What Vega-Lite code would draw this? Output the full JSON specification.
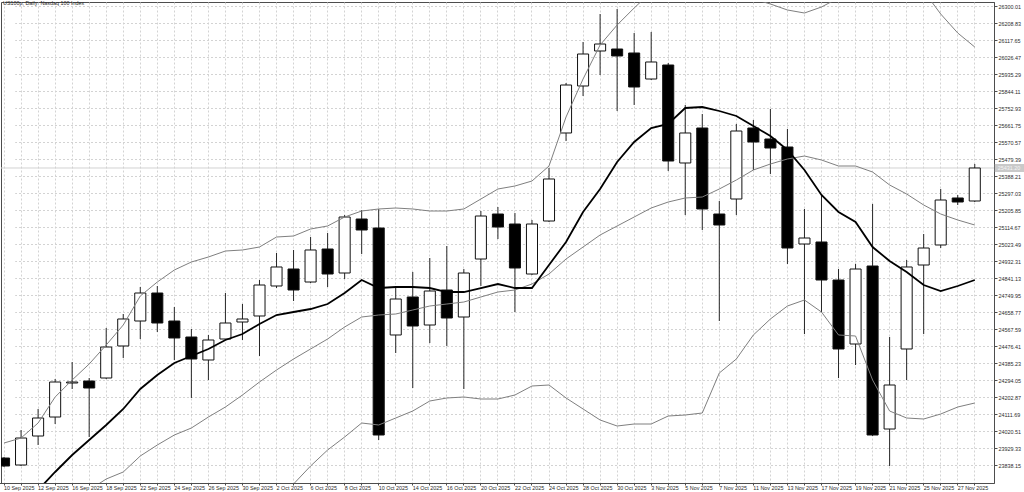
{
  "$schema": "https://vega.github.io/schema/vega-lite/v6.json",
  "width": 993,
  "height": 481,
  "padding": 0,
  "background": "white",
  "title": {
    "text": "US100p, Daily:  Nasdaq 100 Index",
    "anchor": "start",
    "frame": "group",
    "orient": "top",
    "offset": 0,
    "baseline": "top",
    "dx": 2,
    "dy": 4,
    "font": "Liberation Sans",
    "fontSize": 5.4,
    "fontWeight": "normal",
    "color": "#2b2b2b"
  },
  "datasets": {
    "bars": [
      {"d": "10 Sep 2025", "o": 23875.7, "h": 23881.1, "l": 23827.5, "c": 23832.8, "ma": 23532.5, "up": 23956.2, "mid": 23489.6, "lo": 23022.9},
      {"d": "11 Sep 2025", "o": 23838.2, "h": 24025.9, "l": 23832.8, "c": 23983.0, "ma": 23612.9, "up": 23983.0, "mid": 23521.8, "lo": 23060.5},
      {"d": "12 Sep 2025", "o": 23993.7, "h": 24138.6, "l": 23945.5, "c": 24090.3, "ma": 23704.1, "up": 24063.5, "mid": 23559.3, "lo": 23055.1},
      {"d": "15 Sep 2025", "o": 24095.6, "h": 24299.5, "l": 24058.1, "c": 24283.4, "ma": 23800.7, "up": 24202.9, "mid": 23602.2, "lo": 23001.5},
      {"d": "16 Sep 2025", "o": 24278.0, "h": 24390.6, "l": 24245.8, "c": 24283.4, "ma": 23891.8, "up": 24294.1, "mid": 23650.5, "lo": 23006.9},
      {"d": "17 Sep 2025", "o": 24288.7, "h": 24304.8, "l": 23988.4, "c": 24251.2, "ma": 23972.3, "up": 24379.9, "mid": 23704.1, "lo": 23028.3},
      {"d": "18 Sep 2025", "o": 24304.8, "h": 24573.0, "l": 24299.5, "c": 24471.1, "ma": 24052.7, "up": 24481.8, "mid": 23763.1, "lo": 23044.4},
      {"d": "19 Sep 2025", "o": 24476.5, "h": 24648.1, "l": 24412.1, "c": 24621.3, "ma": 24138.6, "up": 24589.1, "mid": 23800.7, "lo": 23012.2},
      {"d": "22 Sep 2025", "o": 24610.5, "h": 24792.9, "l": 24514.0, "c": 24760.7, "ma": 24245.8, "up": 24744.6, "mid": 23886.5, "lo": 23028.3},
      {"d": "23 Sep 2025", "o": 24760.7, "h": 24798.3, "l": 24551.5, "c": 24599.8, "ma": 24320.9, "up": 24819.7, "mid": 23945.5, "lo": 23071.2},
      {"d": "24 Sep 2025", "o": 24610.5, "h": 24685.6, "l": 24401.4, "c": 24519.4, "ma": 24385.3, "up": 24884.1, "mid": 23999.1, "lo": 23114.1},
      {"d": "25 Sep 2025", "o": 24524.7, "h": 24567.6, "l": 24197.6, "c": 24406.7, "ma": 24422.8, "up": 24927.0, "mid": 24036.6, "lo": 23146.3},
      {"d": "26 Sep 2025", "o": 24401.4, "h": 24535.5, "l": 24294.1, "c": 24508.6, "ma": 24460.4, "up": 24953.8, "mid": 24095.6, "lo": 23237.5},
      {"d": "29 Sep 2025", "o": 24514.0, "h": 24760.7, "l": 24508.6, "c": 24599.8, "ma": 24508.6, "up": 24986.0, "mid": 24149.3, "lo": 23312.6},
      {"d": "30 Sep 2025", "o": 24605.2, "h": 24701.7, "l": 24508.6, "c": 24621.3, "ma": 24540.8, "up": 24991.4, "mid": 24213.6, "lo": 23435.9},
      {"d": "1 Oct 2025", "o": 24637.4, "h": 24830.4, "l": 24422.8, "c": 24803.6, "ma": 24594.5, "up": 25007.4, "mid": 24283.4, "lo": 23559.3},
      {"d": "2 Oct 2025", "o": 24798.3, "h": 24975.3, "l": 24787.5, "c": 24900.2, "ma": 24642.7, "up": 25061.1, "mid": 24347.7, "lo": 23639.7},
      {"d": "3 Oct 2025", "o": 24889.4, "h": 24991.4, "l": 24717.8, "c": 24776.8, "ma": 24658.8, "up": 25066.4, "mid": 24406.7, "lo": 23736.3},
      {"d": "6 Oct 2025", "o": 24819.7, "h": 25061.1, "l": 24814.4, "c": 24991.4, "ma": 24674.9, "up": 25104.0, "mid": 24460.4, "lo": 23832.8},
      {"d": "7 Oct 2025", "o": 24996.7, "h": 25082.5, "l": 24792.9, "c": 24862.6, "ma": 24701.7, "up": 25120.1, "mid": 24514.0, "lo": 23918.7},
      {"d": "8 Oct 2025", "o": 24868.0, "h": 25179.1, "l": 24835.8, "c": 25168.3, "ma": 24760.7, "up": 25168.3, "mid": 24578.4, "lo": 23988.4},
      {"d": "9 Oct 2025", "o": 25157.6, "h": 25205.9, "l": 24969.9, "c": 25098.6, "ma": 24830.4, "up": 25200.5, "mid": 24632.0, "lo": 24063.5},
      {"d": "10 Oct 2025", "o": 25109.3, "h": 25211.3, "l": 23972.3, "c": 23999.1, "ma": 24787.5, "up": 25211.3, "mid": 24642.7, "lo": 24052.7},
      {"d": "13 Oct 2025", "o": 24535.5, "h": 24792.9, "l": 24438.9, "c": 24728.5, "ma": 24792.9, "up": 25216.6, "mid": 24648.1, "lo": 24090.3},
      {"d": "14 Oct 2025", "o": 24739.3, "h": 24873.4, "l": 24251.2, "c": 24583.7, "ma": 24792.9, "up": 25211.3, "mid": 24669.5, "lo": 24127.8},
      {"d": "15 Oct 2025", "o": 24589.1, "h": 24948.4, "l": 24492.5, "c": 24771.4, "ma": 24787.5, "up": 25200.5, "mid": 24691.0, "lo": 24181.5},
      {"d": "16 Oct 2025", "o": 24776.8, "h": 25012.8, "l": 24476.5, "c": 24626.6, "ma": 24766.1, "up": 25200.5, "mid": 24701.7, "lo": 24197.6},
      {"d": "17 Oct 2025", "o": 24632.0, "h": 24889.4, "l": 24245.8, "c": 24868.0, "ma": 24766.1, "up": 25211.3, "mid": 24712.4, "lo": 24202.9},
      {"d": "20 Oct 2025", "o": 24943.1, "h": 25200.5, "l": 24798.3, "c": 25173.7, "ma": 24787.5, "up": 25264.9, "mid": 24739.3, "lo": 24192.2},
      {"d": "21 Oct 2025", "o": 25184.4, "h": 25222.0, "l": 25050.3, "c": 25114.7, "ma": 24809.0, "up": 25318.5, "mid": 24766.1, "lo": 24192.2},
      {"d": "22 Oct 2025", "o": 25130.8, "h": 25189.8, "l": 24658.8, "c": 24894.8, "ma": 24787.5, "up": 25334.6, "mid": 24776.8, "lo": 24213.6},
      {"d": "23 Oct 2025", "o": 24862.6, "h": 25152.3, "l": 24857.3, "c": 25130.8, "ma": 24787.5, "up": 25361.4, "mid": 24809.0, "lo": 24261.9},
      {"d": "24 Oct 2025", "o": 25146.9, "h": 25431.2, "l": 25141.5, "c": 25372.2, "ma": 24910.9, "up": 25441.9, "mid": 24862.6, "lo": 24267.3},
      {"d": "27 Oct 2025", "o": 25618.9, "h": 25887.1, "l": 25576.0, "c": 25876.3, "ma": 25034.3, "up": 25704.7, "mid": 24943.1, "lo": 24197.6},
      {"d": "28 Oct 2025", "o": 25871.0, "h": 26107.0, "l": 25817.3, "c": 26042.6, "ma": 25195.2, "up": 25908.5, "mid": 25007.4, "lo": 24138.6},
      {"d": "29 Oct 2025", "o": 26058.7, "h": 26257.1, "l": 25930.0, "c": 26096.2, "ma": 25318.5, "up": 26090.9, "mid": 25071.8, "lo": 24079.6},
      {"d": "30 Oct 2025", "o": 26069.4, "h": 26284.0, "l": 25736.9, "c": 26031.9, "ma": 25463.3, "up": 26198.1, "mid": 25120.1, "lo": 24047.4},
      {"d": "31 Oct 2025", "o": 26048.0, "h": 26155.2, "l": 25769.1, "c": 25865.6, "ma": 25570.6, "up": 26289.3, "mid": 25168.3, "lo": 24058.1},
      {"d": "3 Nov 2025", "o": 25908.5, "h": 26160.6, "l": 25903.1, "c": 25999.7, "ma": 25645.7, "up": 26375.1, "mid": 25216.6, "lo": 24058.1},
      {"d": "4 Nov 2025", "o": 25983.6, "h": 25994.3, "l": 25415.1, "c": 25468.7, "ma": 25667.2, "up": 26396.6, "mid": 25248.8, "lo": 24101.0},
      {"d": "5 Nov 2025", "o": 25458.0, "h": 25769.1, "l": 25179.1, "c": 25618.9, "ma": 25753.0, "up": 26434.1, "mid": 25270.3, "lo": 24106.4},
      {"d": "6 Nov 2025", "o": 25645.7, "h": 25720.8, "l": 25098.6, "c": 25211.3, "ma": 25758.3, "up": 26434.1, "mid": 25275.6, "lo": 24117.1},
      {"d": "7 Nov 2025", "o": 25184.4, "h": 25254.2, "l": 24610.5, "c": 25125.4, "ma": 25736.9, "up": 26364.4, "mid": 25318.5, "lo": 24331.6},
      {"d": "10 Nov 2025", "o": 25264.9, "h": 25667.2, "l": 25179.1, "c": 25629.6, "ma": 25710.1, "up": 26353.7, "mid": 25366.8, "lo": 24406.7},
      {"d": "11 Nov 2025", "o": 25645.7, "h": 25688.6, "l": 25420.4, "c": 25570.6, "ma": 25656.4, "up": 26337.6, "mid": 25420.4, "lo": 24535.5},
      {"d": "12 Nov 2025", "o": 25586.7, "h": 25747.6, "l": 25399.0, "c": 25538.4, "ma": 25602.8, "up": 26310.8, "mid": 25452.6, "lo": 24621.3},
      {"d": "13 Nov 2025", "o": 25543.8, "h": 25640.3, "l": 24916.3, "c": 25002.1, "ma": 25527.7, "up": 26278.6, "mid": 25479.4, "lo": 24691.0},
      {"d": "14 Nov 2025", "o": 25023.5, "h": 25211.3, "l": 24540.8, "c": 25055.7, "ma": 25420.4, "up": 26262.5, "mid": 25495.5, "lo": 24723.2},
      {"d": "17 Nov 2025", "o": 25034.3, "h": 25286.3, "l": 24658.8, "c": 24830.4, "ma": 25286.3, "up": 26294.7, "mid": 25474.1, "lo": 24658.8},
      {"d": "18 Nov 2025", "o": 24830.4, "h": 24889.4, "l": 24304.8, "c": 24460.4, "ma": 25195.2, "up": 26342.9, "mid": 25441.9, "lo": 24535.5},
      {"d": "19 Nov 2025", "o": 24487.2, "h": 24916.3, "l": 24374.5, "c": 24889.4, "ma": 25141.5, "up": 26353.7, "mid": 25441.9, "lo": 24530.1},
      {"d": "20 Nov 2025", "o": 24905.5, "h": 25238.1, "l": 23993.7, "c": 23999.1, "ma": 25007.4, "up": 26525.3, "mid": 25409.7, "lo": 24294.1},
      {"d": "21 Nov 2025", "o": 24031.3, "h": 24524.7, "l": 23832.8, "c": 24267.3, "ma": 24932.4, "up": 26552.1, "mid": 25340.0, "lo": 24127.8},
      {"d": "24 Nov 2025", "o": 24460.4, "h": 24937.7, "l": 24294.1, "c": 24900.2, "ma": 24873.4, "up": 26493.1, "mid": 25291.7, "lo": 24090.3},
      {"d": "25 Nov 2025", "o": 24910.9, "h": 25077.2, "l": 24540.8, "c": 25002.1, "ma": 24803.6, "up": 26380.5, "mid": 25232.7, "lo": 24084.9},
      {"d": "26 Nov 2025", "o": 25018.2, "h": 25318.5, "l": 25002.1, "c": 25259.5, "ma": 24771.4, "up": 26257.1, "mid": 25184.4, "lo": 24111.7},
      {"d": "27 Nov 2025", "o": 25270.3, "h": 25286.3, "l": 25232.7, "c": 25248.8, "ma": 24798.3, "up": 26155.2, "mid": 25152.3, "lo": 24149.3},
      {"d": "28 Nov 2025", "o": 25254.2, "h": 25452.6, "l": 25248.8, "c": 25431.2, "ma": 24830.4, "up": 26080.1, "mid": 25125.4, "lo": 24170.7}
    ]
  },
  "data": {"name": "bars"},
  "layer": [
    {
      "data": {"values": [{"bid": 25431.2}]},
      "mark": {"type": "rule", "color": "#d2d2d2", "strokeWidth": 1},
      "encoding": {
        "y": {"field": "bid", "type": "quantitative", "scale": {"domain": [23741.7, 26321.5], "zero": false, "nice": false}}
      }
    },
    {
      "mark": {"type": "rule", "color": "#262626", "strokeWidth": 1, "clip": true},
      "encoding": {
        "x": {"field": "d", "type": "ordinal", "sort": null, "bandPosition": 0.5},
        "y": {"field": "l", "type": "quantitative"},
        "y2": {"field": "h"}
      }
    },
    {
      "mark": {"type": "bar", "stroke": "#111111", "strokeWidth": 1, "clip": true},
      "encoding": {
        "x": {
          "field": "d",
          "type": "ordinal",
          "sort": null,
          "scale": {"range": [-2.5, 979.3], "paddingInner": 0.35, "paddingOuter": 0},
          "axis": {
            "orient": "bottom",
            "title": null,
            "labelExpr": "indexof(['10 Sep 2025', '12 Sep 2025', '16 Sep 2025', '18 Sep 2025', '22 Sep 2025', '24 Sep 2025', '26 Sep 2025', '30 Sep 2025', '2 Oct 2025', '6 Oct 2025', '8 Oct 2025', '10 Oct 2025', '14 Oct 2025', '16 Oct 2025', '20 Oct 2025', '22 Oct 2025', '24 Oct 2025', '28 Oct 2025', '30 Oct 2025', '3 Nov 2025', '5 Nov 2025', '7 Nov 2025', '11 Nov 2025', '13 Nov 2025', '17 Nov 2025', '19 Nov 2025', '21 Nov 2025', '25 Nov 2025', '27 Nov 2025'], datum.value) >= 0 ? datum.value : ''",
            "labelAlign": "left",
            "labelAngle": 0,
            "labelBaseline": "top",
            "labelPadding": 0,
            "tickSize": 2,
            "labelOverlap": false,
            "bandPosition": 0.5,
            "grid": true
          }
        },
        "y": {
          "field": "o",
          "type": "quantitative",
          "axis": {
            "orient": "right",
            "title": null,
            "tickCount": 60,
            "values": [23838.15, 23929.33, 24020.51, 24111.69, 24202.87, 24294.05, 24385.23, 24476.41, 24567.59, 24658.77, 24749.95, 24841.13, 24932.31, 25023.49, 25114.67, 25205.85, 25297.03, 25388.21, 25479.39, 25570.57, 25661.75, 25752.93, 25844.11, 25935.29, 26026.47, 26117.65, 26208.83, 26300.01],
            "format": ".2f",
            "labelAlign": "left",
            "labelBaseline": "middle",
            "labelPadding": 1,
            "labelOverlap": false,
            "grid": true
          }
        },
        "y2": {"field": "c"},
        "fill": {"condition": {"test": "datum.c >= datum.o", "value": "#ffffff"}, "value": "#000000"}
      }
    },
    {
      "mark": {"type": "line", "color": "#7f7f7f", "strokeWidth": 1, "clip": true},
      "encoding": {
        "x": {"field": "d", "type": "ordinal", "sort": null, "bandPosition": 0.5},
        "y": {"field": "up", "type": "quantitative"}
      }
    },
    {
      "mark": {"type": "line", "color": "#7f7f7f", "strokeWidth": 1, "clip": true},
      "encoding": {
        "x": {"field": "d", "type": "ordinal", "sort": null, "bandPosition": 0.5},
        "y": {"field": "mid", "type": "quantitative"}
      }
    },
    {
      "mark": {"type": "line", "color": "#7f7f7f", "strokeWidth": 1, "clip": true},
      "encoding": {
        "x": {"field": "d", "type": "ordinal", "sort": null, "bandPosition": 0.5},
        "y": {"field": "lo", "type": "quantitative"}
      }
    },
    {
      "mark": {"type": "line", "color": "#000000", "strokeWidth": 1.8, "clip": true},
      "encoding": {
        "x": {"field": "d", "type": "ordinal", "sort": null, "bandPosition": 0.5},
        "y": {"field": "ma", "type": "quantitative"}
      }
    },
    {
      "transform": [{"filter": "datum.d == '28 Nov 2025'"}],
      "mark": {"type": "point", "shape": "M20,-4H52V4H20Z", "size": 4, "filled": true, "fill": "#c9c9c9", "strokeWidth": 0, "opacity": 1, "clip": false},
      "encoding": {
        "x": {"field": "d", "type": "ordinal", "sort": null, "bandPosition": 0.5},
        "y": {"field": "c", "type": "quantitative"}
      }
    },
    {
      "transform": [{"filter": "datum.d == '28 Nov 2025'"}],
      "mark": {"type": "text", "align": "left", "baseline": "middle", "dx": 23, "font": "Liberation Sans", "fontSize": 5.4, "color": "#f5f5f5", "clip": false},
      "encoding": {
        "x": {"field": "d", "type": "ordinal", "sort": null, "bandPosition": 0.5},
        "y": {"field": "c", "type": "quantitative"},
        "text": {"field": "c", "type": "quantitative", "format": ".2f"}
      }
    }
  ],
  "config": {
    "view": {"stroke": "#4d4d4d", "strokeWidth": 1},
    "axis": {
      "labelFont": "Liberation Sans",
      "labelFontSize": 5.4,
      "labelColor": "#2b2b2b",
      "labelOverlap": false,
      "gridColor": "#d3d3d3",
      "gridDash": [2, 2],
      "gridWidth": 1,
      "domainColor": "#4d4d4d",
      "tickColor": "#4d4d4d",
      "tickSize": 3
    }
  }
}
